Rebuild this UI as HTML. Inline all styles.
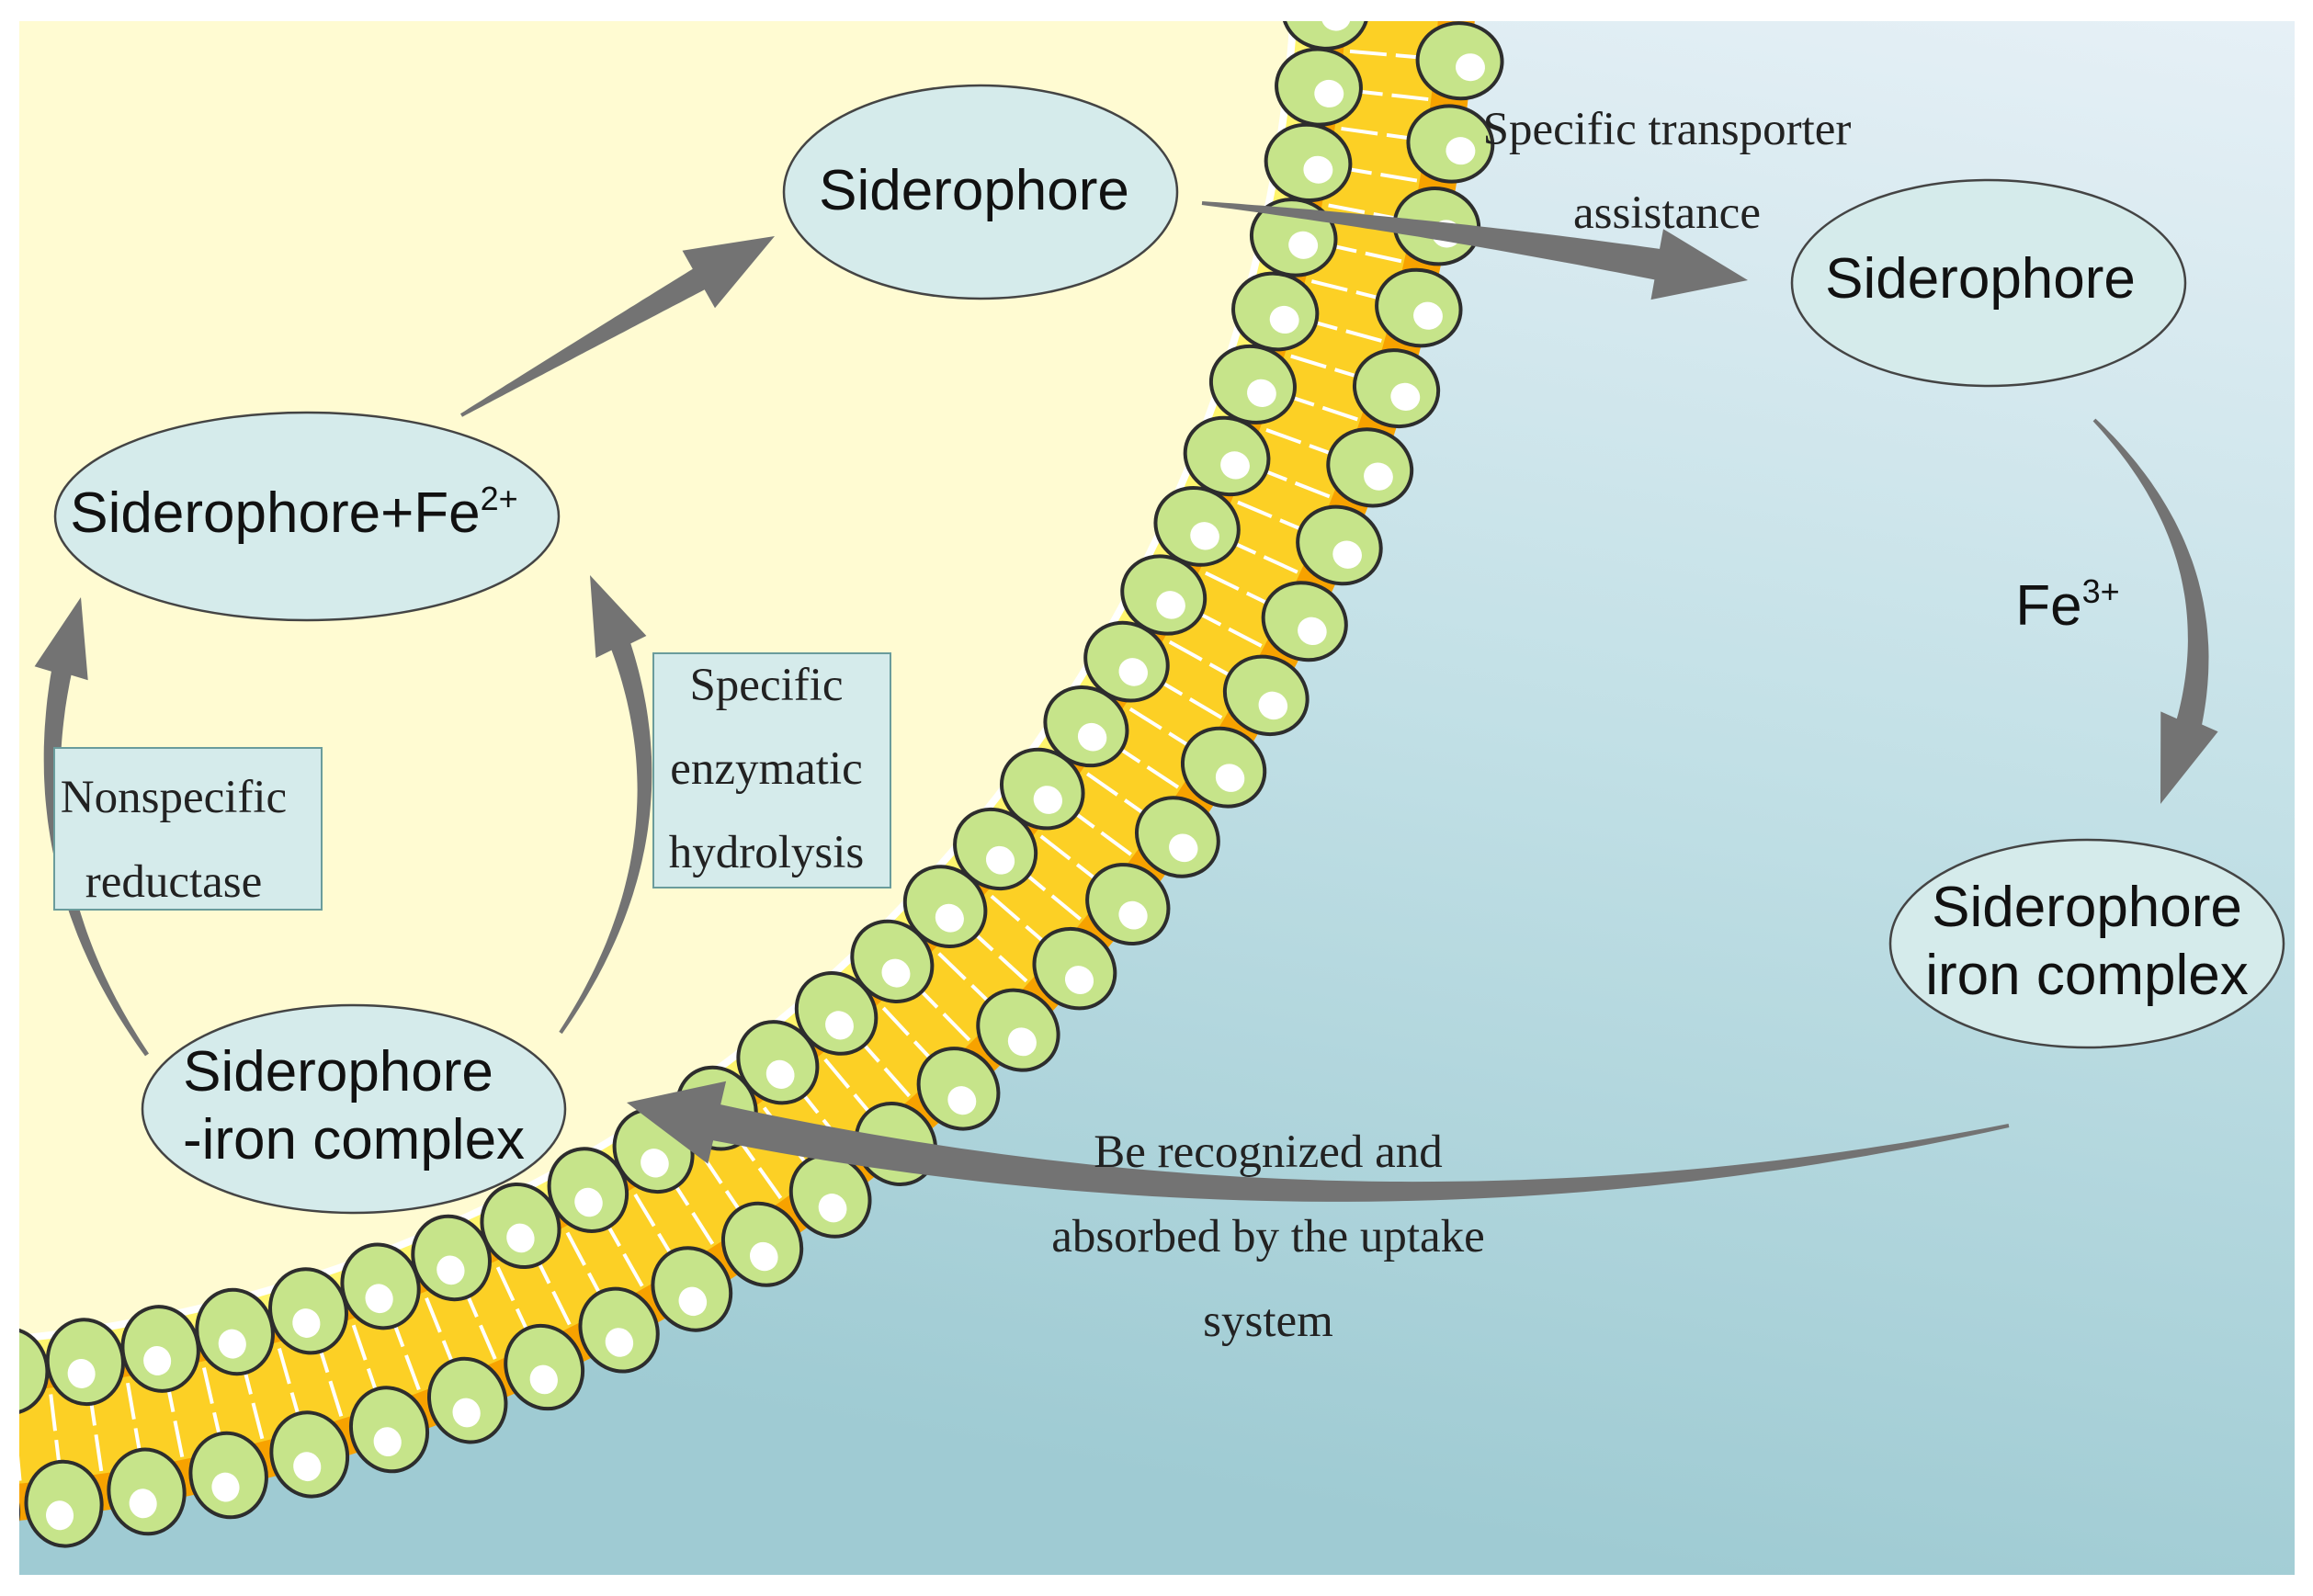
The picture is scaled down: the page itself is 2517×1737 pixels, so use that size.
<!DOCTYPE html>
<html><head><meta charset="utf-8">
<style>
html,body{margin:0;padding:0;background:#fff;}
svg{display:block;}
.s{font-family:"Liberation Sans",sans-serif;font-size:62px;fill:#111;}
.r{font-family:"Liberation Serif",serif;font-size:51px;fill:#222;}
</style></head>
<body>
<svg id="sv" width="2517" height="1737" viewBox="0 0 2517 1737" xmlns="http://www.w3.org/2000/svg">
<defs>
<linearGradient id="bg" x1="1" y1="0" x2="0.75" y2="1">
<stop offset="0" stop-color="#e6f0f6"/>
<stop offset="0.5" stop-color="#c2e0e6"/>
<stop offset="1" stop-color="#9fcbd3"/>
</linearGradient>
<clipPath id="cp"><rect x="21" y="23" width="2476" height="1691"/></clipPath>
</defs>
<rect width="2517" height="1737" fill="#fff"/>
<g clip-path="url(#cp)">
<rect x="21" y="23" width="2476" height="1691" fill="url(#bg)"/>
<g id="mem"></g>
</g>
<g id="arr"></g>
<g fill="#d5ebeb" stroke="#444" stroke-width="2.5">
<ellipse cx="1067" cy="209" rx="214" ry="116"/>
<ellipse cx="2164" cy="308" rx="214" ry="112"/>
<ellipse cx="334" cy="562" rx="274" ry="113"/>
<ellipse cx="2271" cy="1027" rx="214" ry="113"/>
<ellipse cx="385" cy="1207" rx="230" ry="113"/>
</g>
<g fill="#d5ebeb" stroke="#6a9c9c" stroke-width="2">
<rect x="59" y="814" width="291" height="176"/>
<rect x="711" y="711" width="258" height="255"/>
</g>
<g class="s" text-anchor="middle">
<text x="1060" y="228">Siderophore</text>
<text x="2155" y="324">Siderophore</text>
<text x="320" y="579">Siderophore+Fe<tspan font-size="36" dy="-24">2+</tspan></text>
<text x="2271" y="1008">Siderophore</text>
<text x="2271" y="1082">iron complex</text>
<text x="368" y="1187">Siderophore</text>
<text x="385" y="1261">-iron complex</text>
<text x="2250" y="680">Fe<tspan font-size="36" dy="-24">3+</tspan></text>
</g>
<g class="r" text-anchor="middle">
<text x="1814" y="157">Specific transporter</text>
<text x="1814" y="248">assistance</text>
<text x="1380" y="1270">Be recognized and</text>
<text x="1380" y="1362">absorbed by the uptake</text>
<text x="1380" y="1454">system</text>
<text x="189" y="884">Nonspecific</text>
<text x="189" y="976">reductase</text>
<text x="834" y="762">Specific</text>
<text x="834" y="853">enzymatic</text>
<text x="834" y="944">hydrolysis</text>
</g>
</svg>
<script>
(function(){
var NS="http://www.w3.org/2000/svg";
function el(n,a,p){var e=document.createElementNS(NS,n);for(var k in a)e.setAttribute(k,a[k]);p.appendChild(e);return e;}
var mem=document.getElementById("mem");
var cx=-137,cy=-83;
el("circle",{cx:cx,cy:cy,r:1745,fill:"#f7a200"},mem);
el("circle",{cx:cx,cy:cy,r:1705,fill:"#fcd025"},mem);
el("circle",{cx:cx,cy:cy,r:1605,fill:"#f7a200"},mem);
el("circle",{cx:cx,cy:cy,r:1570,fill:"#fff56e"},mem);
el("circle",{cx:cx,cy:cy,r:1552,fill:"#ffffff"},mem);
el("circle",{cx:cx,cy:cy,r:1544,fill:"#fffbd2"},mem);
var step=0.0525;
for(var a=-0.15;a<1.75;a+=step/2){
 var c=Math.cos(a),s=Math.sin(a);
 el("line",{x1:cx+1612*c,y1:cy+1612*s,x2:cx+1705*c,y2:cy+1705*s,stroke:"#fff","stroke-width":4,"stroke-dasharray":"40 10"},mem);
}
function head(r,a){
 var c=Math.cos(a),s=Math.sin(a);
 var x=cx+r*c,y=cy+r*s,deg=a*180/Math.PI;
 var g=el("g",{transform:"translate("+x+","+y+") rotate("+deg+")"},mem);
 el("ellipse",{cx:0,cy:0,rx:46,ry:41,fill:"#c6e48a",stroke:"#2d2d2d","stroke-width":4},g);
 el("ellipse",{cx:12,cy:6,rx:16,ry:15,fill:"#fff"},g);
}
for(var a=-0.15;a<1.75;a+=step){head(1582,a);}
for(var a=-0.15+step/2;a<1.75;a+=step){head(1732,a);}
var arr=document.getElementById("arr");
function qp(p0,c,p1,t){var u=1-t;return [u*u*p0[0]+2*u*t*c[0]+t*t*p1[0],u*u*p0[1]+2*u*t*c[1]+t*t*p1[1]];}
function arrow(p0,c,p1,w0,w1,hl,hw){
 var tb=1,i;
 for(i=0;i<=1000;i++){var t=1-i/1000;var q=qp(p0,c,p1,t);if(Math.hypot(q[0]-p1[0],q[1]-p1[1])>=hl){tb=t;break;}}
 var N=60,L=[],R=[];
 for(i=0;i<=N;i++){
  var t=tb*i/N;var q=qp(p0,c,p1,t);var q2=qp(p0,c,p1,Math.min(t+0.001,1));var q1=qp(p0,c,p1,Math.max(t-0.001,0));
  var dx=q2[0]-q1[0],dy=q2[1]-q1[1],d=Math.hypot(dx,dy);var nx=-dy/d,ny=dx/d;
  var w=(w0+(w1-w0)*(i/N))/2;
  L.push([q[0]+nx*w,q[1]+ny*w]);R.push([q[0]-nx*w,q[1]-ny*w]);
 }
 var b=qp(p0,c,p1,tb);var dx=p1[0]-b[0],dy=p1[1]-b[1],d=Math.hypot(dx,dy);var nx=-dy/d,ny=dx/d;
 var pts=L.slice();
 pts.push([b[0]+nx*hw/2,b[1]+ny*hw/2]);pts.push(p1);pts.push([b[0]-nx*hw/2,b[1]-ny*hw/2]);
 pts=pts.concat(R.reverse());
 el("polygon",{points:pts.map(function(p){return p[0].toFixed(1)+","+p[1].toFixed(1);}).join(" "),fill:"#737373"},arr);
}
arrow([502,452],[670,355],[843,257],4,26,95,72);
arrow([1308,221],[1600,250],[1902,305],4,34,100,78);
arrow([2279,457],[2460,640],[2351,875],4,28,95,66);
arrow([2186,1225],[1450,1380],[682,1200],4,40,100,92);
arrow([160,1148],[0,920],[88,650],5,22,85,60);
arrow([610,1124],[775,880],[642,626],4,22,85,60);
})();
</script>
</body></html>
